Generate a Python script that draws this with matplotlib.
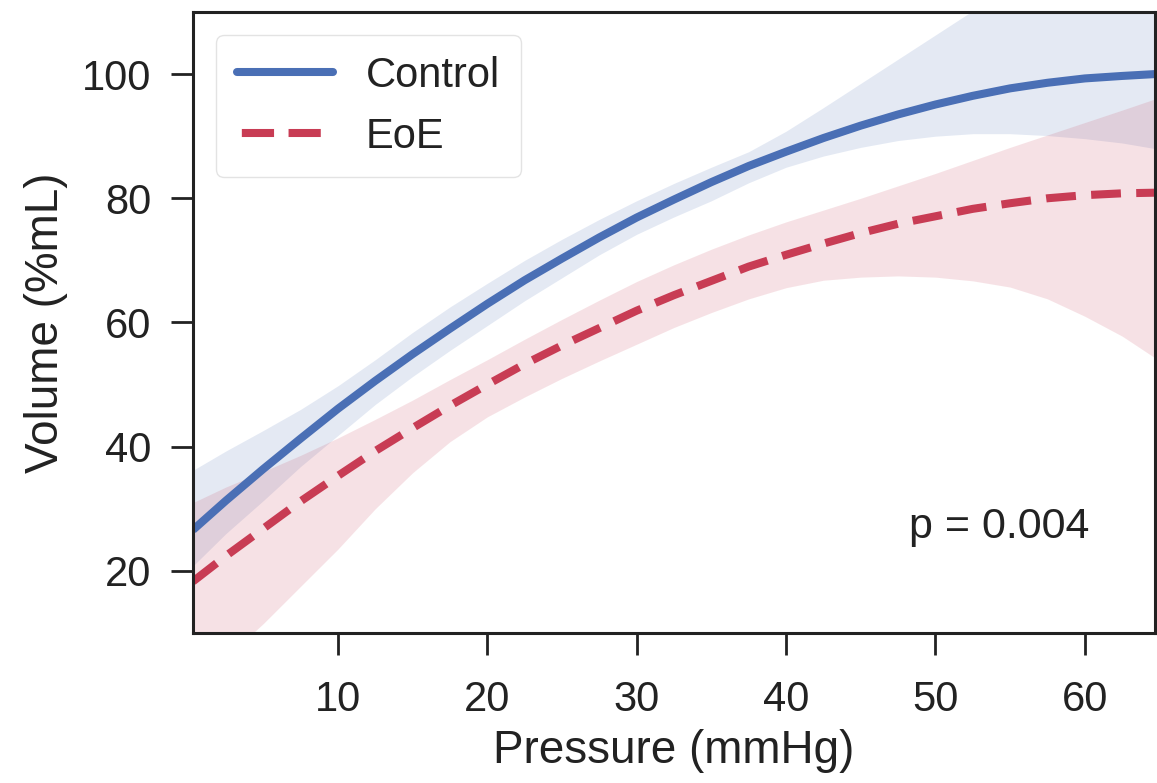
import matplotlib
matplotlib.use("Agg")
import matplotlib.pyplot as plt
from matplotlib.lines import Line2D

plt.rcParams['font.family'] = ['Liberation Sans', 'DejaVu Sans']

# Pressure grid (mmHg)
pressure = [0.3, 2.5, 5, 7.5, 10, 12.5, 15, 17.5, 20, 22.5, 25, 27.5, 30, 32.5,
            35, 37.5, 40, 42.5, 45, 47.5, 50, 52.5, 55, 57.5, 60, 62.5, 64.7]

# Control fit and confidence band (%mL)
control_mean = [26.6, 31.3, 36.4, 41.3, 46.1, 50.6, 54.9, 59.0, 63.0, 66.8, 70.3, 73.7, 76.9, 79.8,
                82.6, 85.2, 87.5, 89.7, 91.7, 93.5, 95.1, 96.5, 97.7, 98.6, 99.3, 99.7, 100.0]
control_low = [20.8, 26.0, 31.3, 36.8, 41.8, 46.8, 51.3, 55.5, 59.5, 63.5, 67.2, 70.9, 74.2, 77.0,
               79.6, 82.5, 85.0, 86.8, 88.2, 89.3, 90.0, 90.4, 90.4, 90.1, 89.6, 88.9, 88.0]
control_high = [36.2, 39.3, 42.6, 46.0, 49.8, 54.0, 58.4, 62.5, 66.3, 70.0, 73.4, 76.6, 79.6, 82.4,
                85.0, 87.5, 90.8, 94.6, 98.5, 102.4, 106.3, 110.2, 114.5, 118.0, 121.5, 125.0, 128.0]

# EoE fit and confidence band (%mL)
eoe_mean = [18.3, 22.4, 26.8, 31.2, 35.3, 39.3, 43.0, 46.6, 50.0, 53.3, 56.3, 59.1, 61.9, 64.4,
            66.7, 69.0, 70.9, 72.7, 74.4, 75.9, 77.1, 78.3, 79.2, 80.0, 80.5, 80.8, 80.9]
eoe_low = [1.0, 6.0, 11.5, 17.5, 23.5, 30.0, 35.8, 40.8, 44.8, 48.0, 51.0, 53.8, 56.5, 59.2,
           61.6, 63.8, 65.6, 66.8, 67.3, 67.5, 67.3, 66.7, 65.7, 63.8, 61.0, 57.8, 54.3]
eoe_high = [31.0, 33.5, 36.0, 38.6, 41.4, 44.4, 47.5, 50.8, 54.0, 57.3, 60.5, 63.6, 66.6, 69.3,
            71.8, 74.1, 76.2, 78.1, 80.0, 82.0, 84.0, 86.1, 88.2, 90.2, 92.2, 94.2, 96.0]

series_names = ['Control', 'EoE']
x_ticks = [10, 20, 30, 40, 50, 60]
y_ticks = [20, 40, 60, 80, 100]

blue = '#4a6fb5'
red = '#c83c54'

fig = plt.figure(figsize=(11.57, 7.83), dpi=100)
ax = fig.add_axes([0.1668, 0.1916, 0.8315, 0.7931])

ax.fill_between(pressure, control_low, control_high, color=blue, alpha=0.15, lw=0)
ax.fill_between(pressure, eoe_low, eoe_high, color=red, alpha=0.15, lw=0)
ax.plot(pressure, control_mean, color=blue, lw=5.8, solid_capstyle='butt')
ax.plot(pressure, eoe_mean, color=red, lw=5.8, ls=(0, (3.7, 1.9)))

ax.set_xlim(0.3, 64.7)
ax.set_ylim(10, 110)
ax.set_xticks(x_ticks)
ax.set_yticks(y_ticks)
ax.tick_params(axis='both', which='major', direction='out', length=16, width=2,
               labelsize=30, color='#222222', labelcolor='#222222')
ax.tick_params(axis='x', pad=18)
ax.tick_params(axis='y', pad=14)
for s in ax.spines.values():
    s.set_linewidth(2.2)
    s.set_color('#222222')

ax.set_xlabel('Pressure (mmHg)', fontsize=33, color='#222222', labelpad=6)
ax.set_ylabel('Volume (%mL)', fontsize=33, color='#222222', labelpad=10)

handles = [Line2D([], [], color=blue, lw=5.8, solid_capstyle='round'),
           Line2D([], [], color=red, lw=5.8, ls=(5.2, (4.0, 1.8)))]
leg = ax.legend(handles, series_names, loc='upper left', fontsize=30, handlelength=2.3,
                handletextpad=0.8, labelspacing=0.5, borderpad=0.5, borderaxespad=0.55,
                frameon=True, fancybox=True)
leg.get_frame().set_edgecolor('#dddddd')
leg.get_frame().set_linewidth(1.0)
for t in leg.get_texts():
    t.set_color('#222222')

ax.text(0.932, 0.171, 'p = 0.004', transform=ax.transAxes, ha='right', va='center',
        fontsize=31, color='#222222')

fig.savefig('out.png', dpi=100)
